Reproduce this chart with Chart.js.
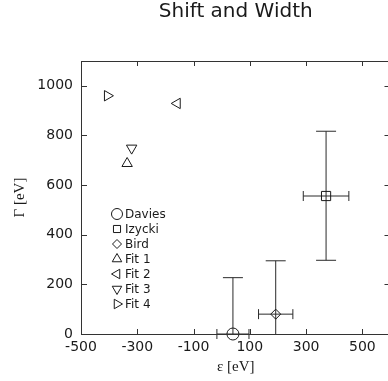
<!DOCTYPE html>
<html>
<head>
<meta charset="utf-8">
<script src="https://cdn.jsdelivr.net/npm/chart.js@4.4.1/dist/chart.umd.min.js"></script>
<style>
  html, body { margin: 0; padding: 0; background: #fff; overflow: hidden; }
  canvas { display: block; }
</style>
</head>
<body>
<canvas id="grafico" width="398" height="381"></canvas>
<script>
// nombres de las series (orden de la leyenda)
const series = ["Davies", "Izycki", "Bird", "Fit 1", "Fit 2", "Fit 3", "Fit 4"];
// desplazamiento epsilon [eV]
const shift = [40, 371, 192, -336, -158, -320, -406];
// anchura Gamma [eV]
const width = [0, 556, 80, 687, 929, 749, 960];
// errores (+/-) en epsilon
const shiftErr = [57, 81, 61, 0, 0, 0, 0];
// errores en Gamma
const widthErrUp = [227, 261, 215, 0, 0, 0, 0];
const widthErrDown = [0, 259, 80, 0, 0, 0, 0];

const xTicks = [-500, -300, -100, 100, 300, 500];
const xTickLabels = ["-500", "-300", "-100", "100", "300", "500"];
const yTicks = [0, 200, 400, 600, 800, 1000];
const yTickLabels = ["0", "200", "400", "600", "800", "1000"];

/* estilo de cada marcador */
const marcadores = [
  { style: "circle", rot: 0, r: 6, rl: 5.5 },
  { style: "rect", rot: 0, r: 6.5, rl: 5 },
  { style: "rectRot", rot: 0, r: 5, rl: 4.5 },
  { style: "triangle", rot: 0, r: 6, rl: 5.5 },
  { style: "triangle", rot: 270, r: 6, rl: 5.5 },
  { style: "triangle", rot: 180, r: 6, rl: 5.5 },
  { style: "triangle", rot: 90, r: 6, rl: 5.5 },
];

const tinta = "#1a1a1a";
const fuente = "'DejaVu Sans', sans-serif";
const serif = "'Liberation Serif', 'DejaVu Serif', serif";

const datasets = series.map((nombre, i) => ({
  label: nombre,
  data: [{ x: shift[i], y: width[i] }],
  pointStyle: marcadores[i].style,
  pointRotation: marcadores[i].rot,
  pointRadius: marcadores[i].r,
  pointBorderWidth: 1,
  borderColor: tinta,
  backgroundColor: "rgba(0,0,0,0)",
  showLine: false,
  clip: false,
}));

const dibujarPunto = (ctx, opts, x, y) => {
  if (Chart.helpers && Chart.helpers.drawPoint) {
    Chart.helpers.drawPoint(ctx, opts, x, y);
  }
};

/* barras de error */
const barrasError = {
  id: "barrasError",
  beforeDatasetsDraw(chart) {
    const { ctx, scales: { x, y } } = chart;
    const cap = 10;
    const capH = 8;
    ctx.save();
    ctx.strokeStyle = "#2a2a2a";
    ctx.lineWidth = 1;
    series.forEach((s, i) => {
      const px = x.getPixelForValue(shift[i]);
      const py = y.getPixelForValue(width[i]);
      ctx.beginPath();
      if (shiftErr[i] > 0) {
        const x0 = x.getPixelForValue(shift[i] - shiftErr[i]);
        const x1 = x.getPixelForValue(shift[i] + shiftErr[i]);
        ctx.moveTo(x0, py); ctx.lineTo(x1, py);
        ctx.moveTo(x0, py - capH / 2 - 1); ctx.lineTo(x0, py + capH / 2 + 1);
        ctx.moveTo(x1, py - capH / 2 - 1); ctx.lineTo(x1, py + capH / 2 + 1);
      }
      if (widthErrUp[i] > 0) {
        const y1 = y.getPixelForValue(width[i] + widthErrUp[i]);
        ctx.moveTo(px, py); ctx.lineTo(px, y1);
        ctx.moveTo(px - cap, y1); ctx.lineTo(px + cap, y1);
      }
      if (widthErrDown[i] > 0) {
        const abajo = width[i] - widthErrDown[i];
        const y0 = y.getPixelForValue(Math.max(abajo, y.min));
        ctx.moveTo(px, py); ctx.lineTo(px, y0);
        if (abajo > y.min) {
          ctx.moveTo(px - cap, y0); ctx.lineTo(px + cap, y0);
        }
      }
      ctx.stroke();
    });
    ctx.restore();
  },
};

/* marco con marcas hacia dentro */
const marco = {
  id: "marco",
  afterDraw(chart) {
    const { ctx, chartArea: a, scales: { x, y } } = chart;
    const largo = 5;
    ctx.save();
    ctx.strokeStyle = "#333";
    ctx.lineWidth = 1;
    ctx.beginPath();
    ctx.rect(a.left + 0.5, a.top + 0.5, a.right - a.left, a.bottom - a.top);
    xTicks.forEach((v) => {
      const px = Math.round(x.getPixelForValue(v)) + 0.5;
      ctx.moveTo(px, a.bottom); ctx.lineTo(px, a.bottom - largo);
      ctx.moveTo(px, a.top); ctx.lineTo(px, a.top + largo);
    });
    yTicks.forEach((v) => {
      const py = Math.round(y.getPixelForValue(v)) + 0.5;
      ctx.moveTo(a.left, py); ctx.lineTo(a.left + largo + 1, py);
      ctx.moveTo(a.right, py); ctx.lineTo(a.right - largo - 1, py);
    });
    ctx.stroke();
    ctx.restore();
  },
};

/* leyenda dentro del área */
const leyenda = {
  id: "leyenda",
  afterDatasetsDraw(chart) {
    const { ctx } = chart;
    const mx = 117, tx = 125, y0 = 214, paso = 15;
    ctx.save();
    ctx.font = "12px " + fuente;
    ctx.strokeStyle = tinta;
    ctx.lineWidth = 1;
    ctx.textBaseline = "middle";
    ctx.textAlign = "left";
    series.forEach((nombre, i) => {
      const yy = y0 + i * paso;
      ctx.fillStyle = "rgba(0,0,0,0)";
      dibujarPunto(ctx, {
        pointStyle: marcadores[i].style,
        rotation: marcadores[i].rot,
        radius: marcadores[i].rl,
        borderWidth: 1,
      }, mx, yy);
      ctx.fillStyle = tinta;
      ctx.fillText(nombre, tx, yy + 0.5);
    });
    ctx.restore();
  },
};

const grafico = new Chart(document.getElementById("grafico").getContext("2d"), {
  type: "scatter",
  data: { datasets },
  options: {
    responsive: false,
    animation: false,
    devicePixelRatio: 1,
    layout: { padding: 0 },
    plugins: {
      legend: { display: false },
      tooltip: { enabled: false },
      title: {
        display: true,
        text: "Shift and Width",
        fullSize: false,
        color: tinta,
        font: { family: fuente, size: 20, weight: "normal", lineHeight: 1.2 },
        padding: { top: 0, bottom: 37 },
      },
    },
    scales: {
      x: {
        type: "linear",
        min: -500,
        max: 600,
        afterFit: (s) => { s.height = 47; s.paddingLeft = 0; s.paddingRight = 0; },
        afterBuildTicks: (s) => { s.ticks = xTicks.map((v) => ({ value: v })); },
        grid: { display: false, drawTicks: false },
        border: { display: false },
        ticks: {
          autoSkip: false,
          maxRotation: 0,
          padding: 5,
          color: tinta,
          font: { family: fuente, size: 14 },
          callback: (v) => xTickLabels[xTicks.indexOf(v)],
        },
        title: {
          display: true,
          text: "ε [eV]",
          color: tinta,
          font: { family: serif, size: 15, lineHeight: 1.2 },
          padding: { top: 0, bottom: 5 },
        },
      },
      y: {
        type: "linear",
        min: 0,
        max: 1100,
        afterFit: (s) => { s.width = 81; s.paddingTop = 0; s.paddingBottom = 0; },
        afterBuildTicks: (s) => { s.ticks = yTicks.map((v) => ({ value: v })); },
        grid: { display: false, drawTicks: false },
        border: { display: false },
        ticks: {
          autoSkip: false,
          padding: 8,
          color: tinta,
          font: { family: fuente, size: 14 },
          callback: (v) => yTickLabels[yTicks.indexOf(v)],
        },
        title: {
          display: true,
          text: "Γ [eV]",
          color: tinta,
          font: { family: serif, size: 15, lineHeight: 1.2 },
          padding: { top: 11, bottom: 0 },
        },
      },
    },
  },
  plugins: [barrasError, marco, leyenda],
});
</script>
</body>
</html>
